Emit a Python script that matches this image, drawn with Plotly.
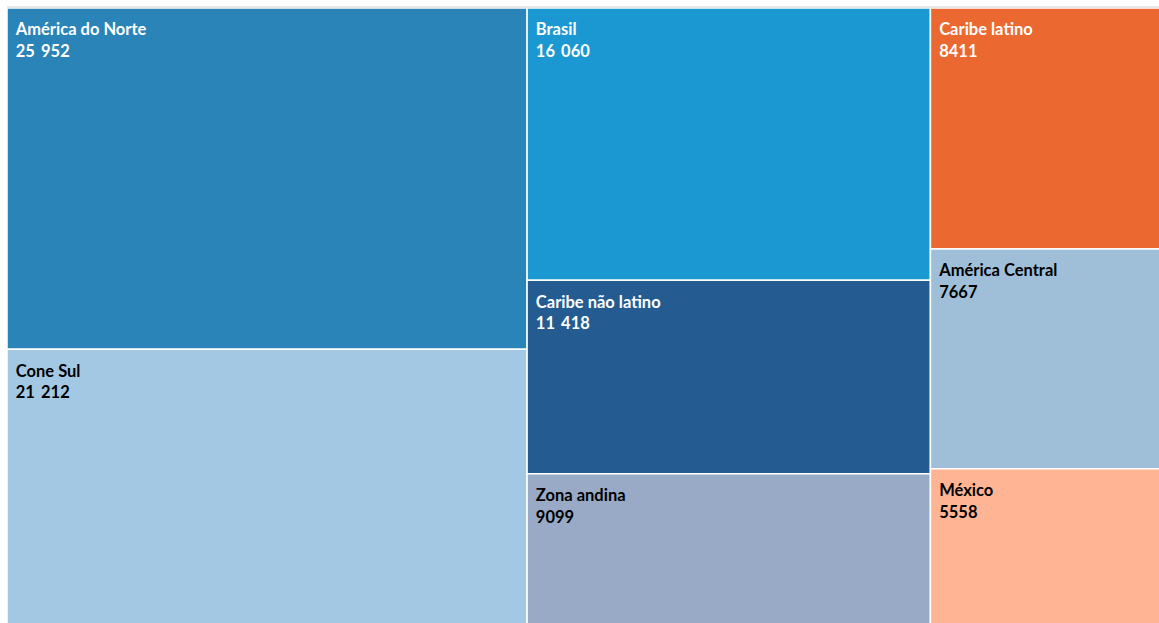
import plotly.graph_objects as go

# Regions and their totals
regions = ["América do Norte", "Cone Sul", "Brasil", "Caribe não latino",
           "Zona andina", "Caribe latino", "América Central", "México"]
values = [25952, 21212, 16060, 11418, 9099, 8411, 7667, 5558]
columns = ["col1", "col1", "col2", "col2", "col2", "col3", "col3", "col3"]
colors = ["#2a84b7", "#a3c8e4", "#1b98d2", "#245c91",
          "#99aac7", "#ec6831", "#9fbfd8", "#ffb594"]
text_colors = ["white", "black", "white", "white",
               "black", "white", "black", "black"]

W, H = 1169, 628


def fmt(v):
    s = str(v)
    return s if len(s) <= 4 else s[:-3] + "\u2009 " + s[-3:]


col_ids = ["col1", "col2", "col3"]
col_vals = [sum(v for v, c in zip(values, columns) if c == k) for k in col_ids]

ids = col_ids + regions
labels = ["", "", ""] + regions
parents = ["", "", ""] + columns
vals = col_vals + values
node_colors = ["white"] * 3 + colors
fonts = ["white"] * 3 + text_colors
texts = ["", "", ""] + [fmt(v) for v in values]
indent = "\u00a0<span style='font-size:6px'>\u00a0</span>"
leaf_tpl = ("<span style='font-size:3px'>\u00a0</span><br>"
            + indent + "<b>%{label}</b><br>" + indent + "<b>%{text}</b>")
templates = [" "] * 3 + [leaf_tpl] * len(regions)

fig = go.Figure(go.Treemap(
    ids=ids,
    labels=labels,
    parents=parents,
    values=vals,
    text=texts,
    branchvalues="total",
    sort=False,
    texttemplate=templates,
    textposition="top left",
    textfont=dict(family="Lato", size=16.5, color=fonts),
    marker=dict(colors=node_colors, line=dict(color="white", width=1.5),
                pad=dict(t=0, l=0, r=0, b=0)),
    tiling=dict(packing="slice-dice", pad=0),
    pathbar=dict(visible=False),
    hoverinfo="skip",
    domain=dict(x=[7 / W, 1], y=[0, (H - 8) / H]),
))

fig.update_layout(
    width=W, height=H,
    margin=dict(l=0, r=0, t=0, b=0),
    paper_bgcolor="white",
    shapes=[dict(type="line", xref="paper", yref="paper",
                 x0=7 / W, x1=1, y0=(H - 7) / H, y1=(H - 7) / H,
                 line=dict(color="#d0d0d0", width=1))],
)

fig.write_html(
    "out.html",
    post_script="document.documentElement.style.overflow='hidden';"
                "document.body.style.overflow='hidden';",
)
